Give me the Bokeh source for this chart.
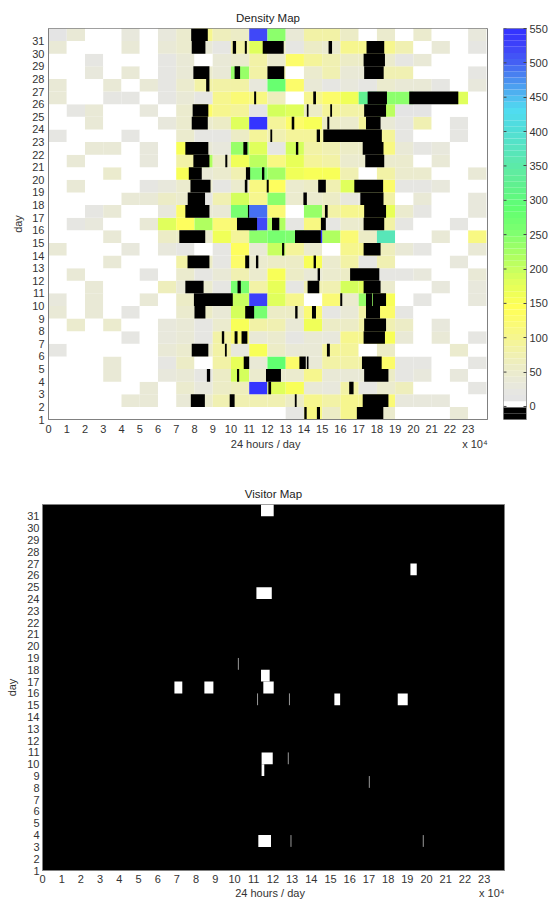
from bokeh.plotting import figure
from bokeh.layouts import column, row
from bokeh.models import ColumnDataSource, FixedTicker, LinearAxis, LinearColorMapper, Range1d
from bokeh.transform import transform
from bokeh.embed import file_html
from bokeh.resources import INLINE

HOUR_TICKS = list(range(24))
DAY_TICKS = list(range(1, 32))

DAY_31 = [15,40,0,0,30,0,30,50,100,65,60,520,240,35,85,80,55,0,50,0,45,0,0,30]
DAY_30 = [35,0,0,0,40,0,35,50,40,25,80,180,60,25,55,50,100,100,100,70,0,40,0,25]
DAY_29 = [0,0,20,0,0,0,25,40,0,40,50,85,45,130,90,75,55,55,50,20,40,0,0,0]
DAY_28 = [0,0,30,0,35,0,25,40,45,35,230,80,80,0,50,70,35,35,75,75,0,0,0,20]
DAY_27 = [35,0,0,35,0,40,20,45,80,85,85,30,280,130,35,20,30,20,50,40,35,20,0,30]
DAY_26 = [35,0,0,18,18,0,25,35,18,105,115,110,65,0,100,125,165,320,240,245,30,30,185,0]
DAY_25 = [0,18,35,0,0,30,0,50,130,100,90,15,190,180,60,90,80,80,210,15,15,0,0,0]
DAY_24 = [0,0,35,0,0,0,30,50,50,55,180,550,95,125,150,60,45,90,40,18,75,0,25,0]
DAY_23 = [18,0,0,0,18,0,0,50,18,20,55,90,75,90,95,90,90,90,90,18,0,0,25,0]
DAY_22 = [0,0,35,35,0,30,0,150,40,30,230,185,20,190,85,75,60,60,110,40,18,30,0,0]
DAY_21 = [0,35,0,0,0,30,0,85,220,60,165,205,110,170,90,85,45,45,50,50,0,35,0,0]
DAY_20 = [0,0,0,45,0,0,0,150,35,50,70,250,225,165,150,150,75,0,85,45,45,0,0,40]
DAY_19 = [0,35,0,0,0,25,30,45,45,18,50,110,140,50,55,70,180,180,130,18,18,30,0,0]
DAY_18 = [0,0,0,0,40,40,60,45,20,70,190,100,240,45,50,60,30,30,85,0,35,0,0,30]
DAY_17 = [0,0,18,35,0,0,30,130,40,40,260,490,120,0,230,80,100,100,170,45,25,0,0,30]
DAY_16 = [0,18,30,0,0,35,185,140,220,120,120,520,220,25,110,25,50,50,85,18,0,0,18,0]
DAY_15 = [0,0,0,35,0,0,55,55,50,165,90,240,260,250,30,220,120,60,370,0,0,35,0,110]
DAY_14 = [35,0,0,0,30,0,30,18,0,25,140,40,200,90,45,0,100,100,65,35,18,0,0,40]
DAY_13 = [0,0,0,35,0,0,0,85,55,20,130,45,60,60,150,45,85,18,75,0,0,0,30,0]
DAY_12 = [0,35,0,0,0,18,0,45,18,40,70,50,150,60,40,50,60,60,25,25,30,0,0,35]
DAY_11 = [0,0,35,0,0,0,65,40,50,18,260,85,170,25,70,70,190,180,50,0,0,30,0,30]
DAY_10 = [30,0,35,0,0,40,0,55,0,0,200,530,180,105,0,120,50,230,150,0,18,0,0,30]
DAY_09 = [40,0,40,0,18,0,0,50,60,40,190,260,55,55,120,18,35,85,130,18,0,0,0,0]
DAY_08 = [0,45,0,45,0,0,30,35,18,50,150,80,75,35,165,55,60,85,70,60,0,30,0,0]
DAY_07 = [0,0,0,0,18,0,30,40,25,80,120,40,50,22,35,30,100,100,150,40,0,35,0,18]
DAY_06 = [18,0,0,0,0,0,35,50,45,85,30,150,55,35,35,90,90,0,60,0,0,0,50,0]
DAY_05 = [0,0,0,35,0,0,18,55,0,85,170,40,285,130,40,80,85,85,125,22,20,0,0,18]
DAY_04 = [0,0,0,35,0,0,30,35,25,55,190,45,45,45,100,40,40,40,60,18,30,0,30,0]
DAY_03 = [0,0,0,0,0,35,0,45,30,60,65,550,180,155,35,30,80,18,50,65,0,0,0,18]
DAY_02 = [0,0,0,0,35,35,0,40,50,70,70,75,70,55,100,80,100,100,120,30,30,30,0,0]
DAY_01 = [0,0,0,0,0,0,0,0,0,0,0,0,0,25,110,55,100,100,45,0,0,0,35,0]
DENSITY = [DAY_01,DAY_02,DAY_03,DAY_04,DAY_05,DAY_06,DAY_07,DAY_08,DAY_09,DAY_10,
           DAY_11,DAY_12,DAY_13,DAY_14,DAY_15,DAY_16,DAY_17,DAY_18,DAY_19,DAY_20,
           DAY_21,DAY_22,DAY_23,DAY_24,DAY_25,DAY_26,DAY_27,DAY_28,DAY_29,DAY_30,DAY_31]

# Negative (black) stretches of the density map: day, start hour, end hour
NEG_DAY = [31, 30,30,30,30,30,30, 29, 28,28,28,28, 27, 26,26,26,26, 25,25,25,25, 24,24,24,24,
           23,23,23, 22,22,22,22, 21,21,21, 20,20,20, 19,19,19,19,19, 18,18,18, 17,17,17,17,
           16,16,16,16, 15,15, 14,14, 13,13,13,13, 12,12, 11,11,11,11, 10,10,10,10,
           9,9,9,9,9, 8, 7,7,7,7, 6,6,6, 5,5,5,5, 4,4,4,4, 3,3, 2,2,2,2, 1,1,1]
NEG_START = [7.82, 7.85,10.1,10.76,11.74,15.35,17.43, 17.27, 7.94,10.2,12.0,17.3, 8.64,
             11.27,14.51,17.49,19.77, 7.9,14.16,15.44,17.3, 7.85,13.33,15.28,17.4,
             12.16,14.7,15.06, 7.5,10.68,13.56,17.22, 7.94,9.69,17.36, 7.69,10.82,11.7,
             7.78,10.76,11.96,14.78,16.76, 7.63,13.97,17.09, 7.5,10.93,15.15,17.3,
             10.33,12.25,14.93,17.27, 7.17,13.51, 12.8,17.27, 7.62,10.78,11.37,14.53,
             14.75,16.53, 7.5,10.36,14.2,17.27, 7.97,15.99,17.4,17.78,
             8.0,10.78,13.52,14.44,17.4, 17.3, 9.5,10.2,10.58,17.27, 7.85,9.67,15.26,
             10.7,13.75,14.16,17.18, 8.68,10.33,11.92,17.3, 12.05,16.48,
             7.8,9.93,13.5,17.22, 14.02,14.71,16.9]
NEG_END = [8.73, 8.6,10.28,10.87,12.89,15.54,18.4, 18.44, 8.82,10.5,12.92,18.37, 8.82,
           11.38,14.66,18.55,22.46, 8.76,14.25,15.54,18.5, 8.73,13.47,15.39,18.2,
           12.26,14.88,18.27, 8.76,10.9,13.69,18.36, 8.82,9.8,18.4, 8.4,11.05,11.83,
           8.88,10.9,12.07,15.2,18.34, 8.58,14.16,18.36, 8.82,11.0,15.3,18.5,
           11.43,12.65,15.2,18.4, 8.59,14.93, 12.92,18.2, 8.82,11.0,11.5,14.66,
           14.88,18.13, 8.5,10.54,14.84,18.2, 10.1,16.1,17.74,18.5,
           8.6,11.27,13.65,14.66,18.17, 18.5, 9.63,10.36,10.9,18.44, 8.76,9.77,15.42,
           11.0,14.1,14.25,18.26, 8.86,10.45,12.74,18.63, 12.2,16.72,
           8.57,10.2,13.6,18.63, 14.15,14.88,18.35]

# Visitor map: visited stretches
VIS_DAY = [31, 26, 24, 17, 16,16,16, 15,15, 10, 9, 3]
VIS_START = [11.38, 19.16, 11.14, 11.38, 6.87,8.43,11.5, 15.2,18.5, 11.41, 11.41, 11.24]
VIS_END = [12.04, 19.49, 11.94, 11.83, 7.28,8.9,12.04, 15.5,19.02, 11.99, 11.55, 11.9]
# Visitor map: very short visits, drawn grey
BRIEF_DAY = [18, 15, 15, 10, 8, 3, 3]
BRIEF_HOUR = [10.2, 11.2, 12.86, 12.8, 17.02, 12.94, 19.83]

PALETTE = ["#000000","#000000","#ffffff","#e4e4e4","#e6e6e2","#e8e8dc","#e9e9d6","#ebebce",
           "#ececc6","#eeeebc","#f0f0b2","#f2f2a6","#f4f49a","#f6f68e","#f8f882","#fafa76",
           "#fcfc6a","#fefe5e","#ffff58","#f8ff58","#f0ff58","#e8ff58","#e0ff5c","#d4ff5c",
           "#c8ff60","#bcff60","#b0ff60","#a4ff64","#98ff68","#8cff6c","#80ff70","#78ff70",
           "#70ff70","#68ff70","#60ff70","#60fc78","#60f880","#60f488","#60f090","#60ee98",
           "#60eca0","#5ceaa8","#5ce8b0","#58e6b8","#58e4c0","#54e2c8","#54e0d0","#50ded8",
           "#50dce0","#50dce8","#50dcf0","#50d0f0","#50c0f0","#4eb0f0","#4ca0f0","#4a90f0",
           "#4880f0","#4670f2","#4460f4","#4254f6","#4048f8","#3c40fa","#3838fc","#3434ff"]
COLOR_LOW = -19
COLOR_HIGH = 550
COLOR_TICKS = [0,50,100,150,200,250,300,350,400,450,500,550]
X_TITLE = "24 hours / day"
X_SCALE = "x 10\u2074"

FONT = "Liberation Sans"
TEXT = "#333333"
FRAME = "#808080"
X_MAX = 24.06
mapper = LinearColorMapper(palette=PALETTE, low=COLOR_LOW, high=COLOR_HIGH)


def style_axes(p, xstand, ystand, ylabel_stand, title_hour, scale_hour, second_stand):
    p.xaxis.ticker = FixedTicker(ticks=HOUR_TICKS)
    p.yaxis.ticker = FixedTicker(ticks=DAY_TICKS)
    p.yaxis.axis_label = "day"
    p.yaxis.axis_label_standoff = ylabel_stand
    p.yaxis.axis_label_text_font = FONT
    p.yaxis.axis_label_text_font_size = "11px"
    p.yaxis.axis_label_text_font_style = "normal"
    p.yaxis.axis_label_text_color = TEXT
    for ax, stand in ((p.xaxis, xstand), (p.yaxis, ystand)):
        ax.major_tick_in = 0
        ax.major_tick_out = 0
        ax.minor_tick_in = 0
        ax.minor_tick_out = 0
        ax.axis_line_color = FRAME
        ax.major_label_standoff = stand
        ax.major_label_text_font = FONT
        ax.major_label_text_font_size = "11px"
        ax.major_label_text_color = TEXT
    p.yaxis.major_label_orientation = "horizontal"
    p.grid.visible = False
    p.outline_line_color = FRAME
    p.title.text_font = FONT
    p.title.text_font_size = "11.5px"
    p.title.text_font_style = "normal"
    p.title.text_color = "#222222"
    p.title.align = "center"
    # second row under the hour labels: the axis title and the scale note share one line
    p.add_layout(LinearAxis(ticker=FixedTicker(ticks=[title_hour, scale_hour]),
                            major_label_overrides={title_hour: X_TITLE, scale_hour: X_SCALE},
                            major_tick_in=0, major_tick_out=0, minor_tick_in=0, minor_tick_out=0,
                            axis_line_color=None, major_label_standoff=second_stand,
                            major_label_text_font=FONT, major_label_text_font_size="11px",
                            major_label_text_color=TEXT), "below")


# ---------- density map ----------
left, right, bottom, top, val = [], [], [], [], []
for d, vals in zip(DAY_TICKS, DENSITY):
    for h, v in zip(HOUR_TICKS, vals):
        left.append(h); right.append(h + 1); bottom.append(d); top.append(d + 1); val.append(v)

density = figure(title="Density Map", width=495, height=480, output_backend="svg", toolbar_location=None,
                 x_range=Range1d(0, X_MAX), y_range=Range1d(1, 32),
                 min_border_left=48, min_border_right=8, min_border_top=28, min_border_bottom=61)
density.quad(left="l", right="r", bottom="b", top="t", source=ColumnDataSource(dict(l=left, r=right, b=bottom, t=top, v=val)),
             fill_color=transform("v", mapper), line_color=None)
density.quad(left=NEG_START, right=NEG_END, bottom=NEG_DAY, top=[d + 1 for d in NEG_DAY],
             fill_color="#000000", line_color=None)
density.quad(left=[14.93], right=[15.0], bottom=[15], top=[16], fill_color="#3434ff", line_color=None)
style_axes(density, 5, 4, 5, 11.9, 23.37, 2)

# ---------- colour bar ----------
n = len(PALETTE)
step = (COLOR_HIGH - COLOR_LOW) / n
bar = figure(width=60, height=480, output_backend="svg", toolbar_location=None,
             x_range=Range1d(0, 1), y_range=Range1d(COLOR_LOW, COLOR_HIGH),
             min_border_left=8, min_border_right=29, min_border_top=28, min_border_bottom=60)
bar.quad(left=[0] * n, right=[1] * n, bottom=[COLOR_LOW + i * step for i in range(n)],
         top=[COLOR_LOW + (i + 1) * step for i in range(n)], fill_color=PALETTE, line_color=None)
bar.segment(x0=[0] * len(COLOR_TICKS), x1=[0.13] * len(COLOR_TICKS), y0=COLOR_TICKS, y1=COLOR_TICKS,
            line_color="#444444", line_width=1)
bar.xaxis.visible = False
bar.yaxis.visible = False
bar.grid.visible = False
bar.outline_line_color = "#999999"
bar.add_layout(LinearAxis(ticker=FixedTicker(ticks=COLOR_TICKS), major_tick_in=3, major_tick_out=0,
                          minor_tick_in=0, minor_tick_out=0, axis_line_color="#999999", major_tick_line_color="#444444",
                          major_label_standoff=3, major_label_text_font=FONT, major_label_text_font_size="11px",
                          major_label_text_color=TEXT), "right")

# ---------- visitor map ----------
visitor = figure(title="Visitor Map", width=555, height=421, output_backend="svg", toolbar_location=None,
                 x_range=Range1d(0, X_MAX), y_range=Range1d(1, 32),
                 min_border_left=42, min_border_right=51, min_border_top=24, min_border_bottom=31)
visitor.background_fill_color = "#000000"
visitor.quad(left=VIS_START, right=VIS_END, bottom=VIS_DAY, top=[d + 1 for d in VIS_DAY],
             fill_color="#ffffff", line_color=None)
visitor.segment(x0=BRIEF_HOUR, x1=BRIEF_HOUR, y0=BRIEF_DAY, y1=[d + 1 for d in BRIEF_DAY],
                line_color="#9a9a9a", line_width=1)
style_axes(visitor, 4, 3, 6, 11.85, 23.4, 1)

page = column(row(density, bar, spacing=0), visitor, spacing=0)
open("out.html", "w").write(file_html(page, INLINE))
